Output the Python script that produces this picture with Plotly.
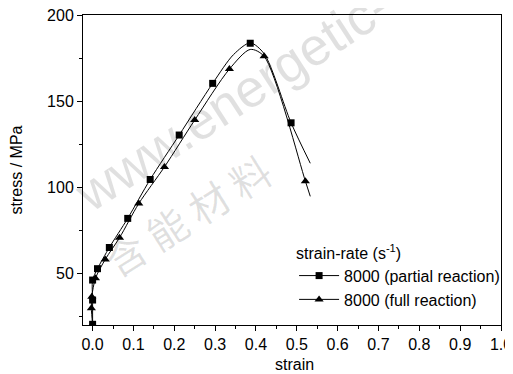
import plotly.graph_objects as go

# Marker points
partial_strain = [0.0, 0.0, 0.0, 0.012, 0.041, 0.086, 0.141, 0.212, 0.294, 0.386, 0.486]
partial_stress = [20.4, 34.5, 46.1, 52.7, 65.0, 81.9, 104.5, 130.3, 160.3, 183.6, 137.4]
full_strain = [0.0, -0.003, -0.002, 0.007, 0.031, 0.066, 0.113, 0.176, 0.250, 0.335, 0.420, 0.521]
full_stress = [20.4, 29.7, 36.4, 47.1, 58.1, 70.7, 90.5, 111.8, 139.0, 168.6, 176.0, 103.5]

# Smooth curve points
partial_curve_strain = [0.0, 0.0, 0.0, 0.012, 0.041, 0.086, 0.141, 0.212, 0.294, 0.345, 0.386, 0.420, 0.486, 0.533]
partial_curve_stress = [20.4, 34.5, 46.1, 52.7, 65.0, 81.9, 104.5, 130.3, 160.3, 177.0, 183.8, 177.5, 137.4, 113.9]
full_curve_strain = [0.0, -0.003, -0.002, 0.007, 0.031, 0.066, 0.113, 0.176, 0.250, 0.335, 0.386, 0.420, 0.521, 0.533]
full_curve_stress = [20.4, 29.7, 36.4, 47.1, 58.1, 70.7, 90.5, 111.8, 139.0, 168.6, 180.0, 176.0, 103.5, 94.7]

series_names = ["8000 (partial reaction)", "8000 (full reaction)"]
x_ticks = [0.0, 0.1, 0.2, 0.3, 0.4, 0.5, 0.6, 0.7, 0.8, 0.9, 1.0]
x_tick_labels = ["0.0", "0.1", "0.2", "0.3", "0.4", "0.5", "0.6", "0.7", "0.8", "0.9", "1.0"]
y_ticks = [50, 100, 150, 200]

FONT = "Liberation Sans, Arial"
FS = 16

fig = go.Figure()
for cx, cy, mx, my, name, sym, ms in [
    (partial_curve_strain, partial_curve_stress, partial_strain, partial_stress, series_names[0], "square", 7),
    (full_curve_strain, full_curve_stress, full_strain, full_stress, series_names[1], "triangle-up", 8),
]:
    fig.add_trace(go.Scatter(x=cx, y=cy, mode="lines", line=dict(color="black", width=1, shape="spline", smoothing=0.8),
                             showlegend=False, hoverinfo="skip"))
    fig.add_trace(go.Scatter(x=mx, y=my, mode="markers", marker=dict(symbol=sym, color="black", size=ms),
                             showlegend=False))
    fig.add_trace(go.Scatter(x=[None], y=[None], mode="lines+markers", name=name,
                             line=dict(color="black", width=1), marker=dict(symbol=sym, color="black", size=ms)))

# faint watermark
fig.add_annotation(text="www.energetic-", x=0.357, y=0.726, xref="paper", yref="paper", showarrow=False,
                   xanchor="center", yanchor="middle", textangle=-33,
                   font=dict(family="Liberation Sans, Arial", size=53, color="rgba(0,0,0,0.12)"))
fig.add_annotation(text="含 能 材 料", x=0.249, y=0.355, xref="paper", yref="paper", showarrow=False,
                   xanchor="center", yanchor="middle", textangle=-32,
                   font=dict(family="Noto Sans CJK SC", size=40, color="rgba(0,0,0,0.12)"))

# x-axis title
fig.add_annotation(text="strain", x=0.507, y=-0.126, xref="paper", yref="paper", showarrow=False,
                   xanchor="center", yanchor="middle", font=dict(family=FONT, size=FS))

# the page body adds an 8 px offset, so the figure is 8 px smaller and margins reduced by 8
fig.update_layout(
    width=505, height=366,
    margin=dict(l=75, r=12, t=7, b=49, autoexpand=False),
    paper_bgcolor="white", plot_bgcolor="white",
    font=dict(family=FONT, size=FS, color="black"),
    legend=dict(
        title=dict(text="strain-rate (s<sup>-1</sup>)", font=dict(family=FONT, size=FS)),
        x=0.505, y=0.281, xanchor="left", yanchor="top",
        bgcolor="rgba(0,0,0,0)", font=dict(family=FONT, size=FS),
        tracegroupgap=0, itemwidth=40,
    ),
    xaxis=dict(
        range=[-0.0235, 1.0], tickvals=x_ticks, ticktext=x_tick_labels, automargin=False,
        ticks="outside", ticklen=5, tickwidth=1, tickcolor="black", ticklabeloverflow="allow",
        minor=dict(dtick=0.05, tick0=0, ticks="outside", ticklen=3, tickcolor="black", showgrid=False),
        showline=True, linecolor="black", linewidth=1, mirror=True, showgrid=False, zeroline=False,
        tickfont=dict(family=FONT, size=FS),
    ),
    yaxis=dict(
        range=[20, 200], tickvals=y_ticks, automargin=False,
        ticks="outside", ticklen=5, tickwidth=1, tickcolor="black", ticklabeloverflow="allow",
        minor=dict(dtick=25, tick0=0, ticks="outside", ticklen=3, tickcolor="black", showgrid=False),
        showline=True, linecolor="black", linewidth=1, mirror=True, showgrid=False, zeroline=False,
        title=dict(text="stress / MPa", font=dict(family=FONT, size=FS), standoff=24),
        tickfont=dict(family=FONT, size=FS),
    ),
)

fig.write_html("out.html")
